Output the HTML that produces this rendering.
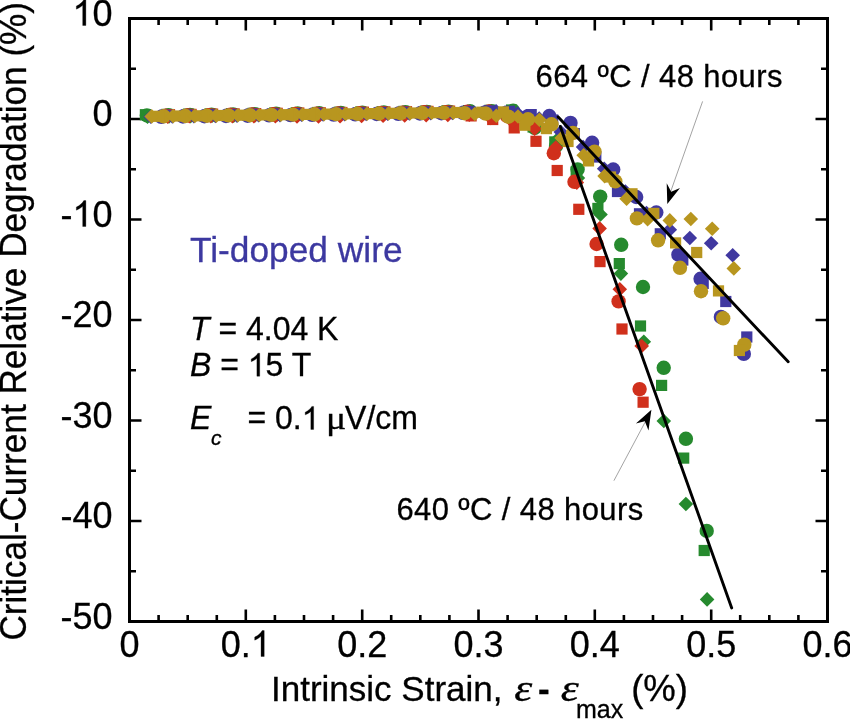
<!DOCTYPE html>
<html><head><meta charset="utf-8">
<style>
html,body{margin:0;padding:0;background:#fff;overflow:hidden;}
svg{display:block;will-change:transform;}
text{font-family:"Liberation Sans",sans-serif;fill:#000;stroke:#000;stroke-width:0.3px;}
</style></head>
<body>
<svg width="850" height="719" viewBox="0 0 850 719">
<rect width="850" height="719" fill="#fff"/>
<!-- ticks -->
<g id="ticks" stroke="#000" stroke-width="2.6" fill="none">
<path d="M158.6,621.5v-6.5M158.6,18.5v6.5M187.7,621.5v-6.5M187.7,18.5v6.5M216.8,621.5v-6.5M216.8,18.5v6.5M245.8,621.5v-12M245.8,18.5v12M274.9,621.5v-6.5M274.9,18.5v6.5M304.0,621.5v-6.5M304.0,18.5v6.5M333.1,621.5v-6.5M333.1,18.5v6.5M362.2,621.5v-12M362.2,18.5v12M391.2,621.5v-6.5M391.2,18.5v6.5M420.3,621.5v-6.5M420.3,18.5v6.5M449.4,621.5v-6.5M449.4,18.5v6.5M478.5,621.5v-12M478.5,18.5v12M507.6,621.5v-6.5M507.6,18.5v6.5M536.7,621.5v-6.5M536.7,18.5v6.5M565.8,621.5v-6.5M565.8,18.5v6.5M594.8,621.5v-12M594.8,18.5v12M623.9,621.5v-6.5M623.9,18.5v6.5M653.0,621.5v-6.5M653.0,18.5v6.5M682.1,621.5v-6.5M682.1,18.5v6.5M711.2,621.5v-12M711.2,18.5v12M740.2,621.5v-6.5M740.2,18.5v6.5M769.3,621.5v-6.5M769.3,18.5v6.5M798.4,621.5v-6.5M798.4,18.5v6.5M129.5,68.8h6.5M827.5,68.8h-6.5M129.5,119.0h12M827.5,119.0h-12M129.5,169.2h6.5M827.5,169.2h-6.5M129.5,219.5h12M827.5,219.5h-12M129.5,269.8h6.5M827.5,269.8h-6.5M129.5,320.0h12M827.5,320.0h-12M129.5,370.2h6.5M827.5,370.2h-6.5M129.5,420.5h12M827.5,420.5h-12M129.5,470.8h6.5M827.5,470.8h-6.5M129.5,521.0h12M827.5,521.0h-12M129.5,571.2h6.5M827.5,571.2h-6.5"/>
</g>
<!-- data -->
<g id="data">
<circle cx="146.9" cy="115.5" r="7.2" fill="#268a2e"/>
<circle cx="168.4" cy="115.2" r="7.2" fill="#268a2e"/>
<circle cx="190.0" cy="114.9" r="7.2" fill="#268a2e"/>
<circle cx="211.5" cy="114.6" r="7.2" fill="#268a2e"/>
<circle cx="233.1" cy="114.4" r="7.2" fill="#268a2e"/>
<circle cx="254.6" cy="114.1" r="7.2" fill="#268a2e"/>
<circle cx="276.1" cy="113.8" r="7.2" fill="#268a2e"/>
<circle cx="297.7" cy="113.5" r="7.2" fill="#268a2e"/>
<circle cx="319.2" cy="113.3" r="7.2" fill="#268a2e"/>
<circle cx="340.8" cy="113.0" r="7.2" fill="#268a2e"/>
<circle cx="362.3" cy="112.7" r="7.2" fill="#268a2e"/>
<circle cx="383.8" cy="112.4" r="7.2" fill="#268a2e"/>
<circle cx="405.4" cy="112.2" r="7.2" fill="#268a2e"/>
<circle cx="426.9" cy="111.9" r="7.2" fill="#268a2e"/>
<circle cx="448.5" cy="111.6" r="7.2" fill="#268a2e"/>
<circle cx="470.0" cy="111.3" r="7.2" fill="#268a2e"/>
<circle cx="491.5" cy="111.1" r="7.2" fill="#268a2e"/>
<circle cx="513.1" cy="110.8" r="7.2" fill="#268a2e"/>
<circle cx="534.6" cy="128.0" r="7.2" fill="#268a2e"/>
<circle cx="556.0" cy="146.0" r="7.2" fill="#268a2e"/>
<circle cx="577.6" cy="169.4" r="7.2" fill="#268a2e"/>
<circle cx="600.2" cy="196.6" r="7.2" fill="#268a2e"/>
<circle cx="621.2" cy="244.8" r="7.2" fill="#268a2e"/>
<circle cx="643.0" cy="287.0" r="7.2" fill="#268a2e"/>
<circle cx="663.7" cy="367.8" r="7.2" fill="#268a2e"/>
<circle cx="685.9" cy="438.8" r="7.2" fill="#268a2e"/>
<circle cx="706.7" cy="530.9" r="7.2" fill="#268a2e"/>
<rect x="139.8" y="109.1" width="11.2" height="11.2" fill="#268a2e"/>
<rect x="161.3" y="108.8" width="11.2" height="11.2" fill="#268a2e"/>
<rect x="182.9" y="108.5" width="11.2" height="11.2" fill="#268a2e"/>
<rect x="204.4" y="108.3" width="11.2" height="11.2" fill="#268a2e"/>
<rect x="226.0" y="108.0" width="11.2" height="11.2" fill="#268a2e"/>
<rect x="247.5" y="107.7" width="11.2" height="11.2" fill="#268a2e"/>
<rect x="269.0" y="107.4" width="11.2" height="11.2" fill="#268a2e"/>
<rect x="290.6" y="107.2" width="11.2" height="11.2" fill="#268a2e"/>
<rect x="312.1" y="106.9" width="11.2" height="11.2" fill="#268a2e"/>
<rect x="333.7" y="106.6" width="11.2" height="11.2" fill="#268a2e"/>
<rect x="355.2" y="106.3" width="11.2" height="11.2" fill="#268a2e"/>
<rect x="376.7" y="106.1" width="11.2" height="11.2" fill="#268a2e"/>
<rect x="398.3" y="105.8" width="11.2" height="11.2" fill="#268a2e"/>
<rect x="419.8" y="105.5" width="11.2" height="11.2" fill="#268a2e"/>
<rect x="441.4" y="105.2" width="11.2" height="11.2" fill="#268a2e"/>
<rect x="462.9" y="105.0" width="11.2" height="11.2" fill="#268a2e"/>
<rect x="484.4" y="104.7" width="11.2" height="11.2" fill="#268a2e"/>
<rect x="506.0" y="104.4" width="11.2" height="11.2" fill="#268a2e"/>
<rect x="527.5" y="121.4" width="11.2" height="11.2" fill="#268a2e"/>
<rect x="549.2" y="136.3" width="11.2" height="11.2" fill="#268a2e"/>
<rect x="570.6" y="166.4" width="11.2" height="11.2" fill="#268a2e"/>
<rect x="592.3" y="202.8" width="11.2" height="11.2" fill="#268a2e"/>
<rect x="613.7" y="258.0" width="11.2" height="11.2" fill="#268a2e"/>
<rect x="634.9" y="320.4" width="11.2" height="11.2" fill="#268a2e"/>
<rect x="656.0" y="379.8" width="11.2" height="11.2" fill="#268a2e"/>
<rect x="678.1" y="452.5" width="11.2" height="11.2" fill="#268a2e"/>
<rect x="698.6" y="544.9" width="11.2" height="11.2" fill="#268a2e"/>
<path d="M147.5,109.4L154.8,116.7L147.5,124.0L140.2,116.7Z" fill="#268a2e"/>
<path d="M169.0,109.1L176.3,116.4L169.0,123.7L161.7,116.4Z" fill="#268a2e"/>
<path d="M190.6,108.8L197.9,116.1L190.6,123.4L183.3,116.1Z" fill="#268a2e"/>
<path d="M212.1,108.5L219.4,115.8L212.1,123.1L204.8,115.8Z" fill="#268a2e"/>
<path d="M233.7,108.3L241.0,115.6L233.7,122.9L226.4,115.6Z" fill="#268a2e"/>
<path d="M255.2,108.0L262.5,115.3L255.2,122.6L247.9,115.3Z" fill="#268a2e"/>
<path d="M276.7,107.7L284.0,115.0L276.7,122.3L269.4,115.0Z" fill="#268a2e"/>
<path d="M298.3,107.4L305.6,114.7L298.3,122.0L291.0,114.7Z" fill="#268a2e"/>
<path d="M319.8,107.2L327.1,114.5L319.8,121.8L312.5,114.5Z" fill="#268a2e"/>
<path d="M341.4,106.9L348.7,114.2L341.4,121.5L334.1,114.2Z" fill="#268a2e"/>
<path d="M362.9,106.6L370.2,113.9L362.9,121.2L355.6,113.9Z" fill="#268a2e"/>
<path d="M384.4,106.3L391.7,113.6L384.4,120.9L377.1,113.6Z" fill="#268a2e"/>
<path d="M406.0,106.1L413.3,113.4L406.0,120.7L398.7,113.4Z" fill="#268a2e"/>
<path d="M427.5,105.8L434.8,113.1L427.5,120.4L420.2,113.1Z" fill="#268a2e"/>
<path d="M449.1,105.5L456.4,112.8L449.1,120.1L441.8,112.8Z" fill="#268a2e"/>
<path d="M470.6,105.2L477.9,112.5L470.6,119.8L463.3,112.5Z" fill="#268a2e"/>
<path d="M492.1,105.0L499.4,112.3L492.1,119.6L484.8,112.3Z" fill="#268a2e"/>
<path d="M513.7,104.8L521.0,112.1L513.7,119.4L506.4,112.1Z" fill="#268a2e"/>
<path d="M535.3,117.7L542.6,125.0L535.3,132.3L528.0,125.0Z" fill="#268a2e"/>
<path d="M556.8,132.7L564.1,140.0L556.8,147.3L549.5,140.0Z" fill="#268a2e"/>
<path d="M577.9,170.7L585.2,178.0L577.9,185.3L570.6,178.0Z" fill="#268a2e"/>
<path d="M600.5,207.2L607.8,214.5L600.5,221.8L593.2,214.5Z" fill="#268a2e"/>
<path d="M620.9,266.3L628.2,273.6L620.9,280.9L613.6,273.6Z" fill="#268a2e"/>
<path d="M643.8,334.5L651.1,341.8L643.8,349.1L636.5,341.8Z" fill="#268a2e"/>
<path d="M663.8,413.7L671.1,421.0L663.8,428.3L656.5,421.0Z" fill="#268a2e"/>
<path d="M685.9,496.7L693.2,504.0L685.9,511.3L678.6,504.0Z" fill="#268a2e"/>
<path d="M707.1,592.1L714.4,599.4L707.1,606.7L699.8,599.4Z" fill="#268a2e"/>
<circle cx="165.7" cy="115.6" r="7.2" fill="#d0301c"/>
<circle cx="187.3" cy="115.4" r="7.2" fill="#d0301c"/>
<circle cx="208.8" cy="115.1" r="7.2" fill="#d0301c"/>
<circle cx="230.4" cy="114.8" r="7.2" fill="#d0301c"/>
<circle cx="251.9" cy="114.5" r="7.2" fill="#d0301c"/>
<circle cx="273.4" cy="114.3" r="7.2" fill="#d0301c"/>
<circle cx="295.0" cy="114.0" r="7.2" fill="#d0301c"/>
<circle cx="316.5" cy="113.7" r="7.2" fill="#d0301c"/>
<circle cx="338.1" cy="113.4" r="7.2" fill="#d0301c"/>
<circle cx="359.6" cy="113.2" r="7.2" fill="#d0301c"/>
<circle cx="381.1" cy="112.9" r="7.2" fill="#d0301c"/>
<circle cx="402.7" cy="112.6" r="7.2" fill="#d0301c"/>
<circle cx="424.2" cy="112.3" r="7.2" fill="#d0301c"/>
<circle cx="445.8" cy="112.1" r="7.2" fill="#d0301c"/>
<circle cx="467.3" cy="111.8" r="7.2" fill="#d0301c"/>
<circle cx="488.8" cy="111.5" r="7.2" fill="#d0301c"/>
<circle cx="507.0" cy="116.0" r="7.2" fill="#d0301c"/>
<circle cx="528.5" cy="121.0" r="7.2" fill="#d0301c"/>
<circle cx="553.8" cy="153.2" r="7.2" fill="#d0301c"/>
<circle cx="574.5" cy="181.8" r="7.2" fill="#d0301c"/>
<circle cx="596.6" cy="244.0" r="7.2" fill="#d0301c"/>
<circle cx="618.6" cy="301.4" r="7.2" fill="#d0301c"/>
<circle cx="639.6" cy="389.1" r="7.2" fill="#d0301c"/>
<rect x="163.9" y="109.1" width="11.2" height="11.2" fill="#d0301c"/>
<rect x="185.5" y="108.8" width="11.2" height="11.2" fill="#d0301c"/>
<rect x="207.0" y="108.5" width="11.2" height="11.2" fill="#d0301c"/>
<rect x="228.6" y="108.3" width="11.2" height="11.2" fill="#d0301c"/>
<rect x="250.1" y="108.0" width="11.2" height="11.2" fill="#d0301c"/>
<rect x="271.6" y="107.7" width="11.2" height="11.2" fill="#d0301c"/>
<rect x="293.2" y="107.4" width="11.2" height="11.2" fill="#d0301c"/>
<rect x="314.7" y="107.2" width="11.2" height="11.2" fill="#d0301c"/>
<rect x="336.3" y="106.9" width="11.2" height="11.2" fill="#d0301c"/>
<rect x="357.8" y="106.6" width="11.2" height="11.2" fill="#d0301c"/>
<rect x="379.3" y="106.3" width="11.2" height="11.2" fill="#d0301c"/>
<rect x="400.9" y="106.1" width="11.2" height="11.2" fill="#d0301c"/>
<rect x="422.4" y="105.8" width="11.2" height="11.2" fill="#d0301c"/>
<rect x="444.0" y="105.5" width="11.2" height="11.2" fill="#d0301c"/>
<rect x="465.5" y="110.3" width="11.2" height="11.2" fill="#d0301c"/>
<rect x="487.1" y="113.9" width="11.2" height="11.2" fill="#d0301c"/>
<rect x="508.6" y="122.3" width="11.2" height="11.2" fill="#d0301c"/>
<rect x="530.4" y="135.7" width="11.2" height="11.2" fill="#d0301c"/>
<rect x="551.6" y="164.9" width="11.2" height="11.2" fill="#d0301c"/>
<rect x="573.2" y="203.7" width="11.2" height="11.2" fill="#d0301c"/>
<rect x="594.4" y="256.0" width="11.2" height="11.2" fill="#d0301c"/>
<rect x="616.4" y="323.4" width="11.2" height="11.2" fill="#d0301c"/>
<rect x="637.5" y="396.6" width="11.2" height="11.2" fill="#d0301c"/>
<path d="M167.7,109.3L175.0,116.6L167.7,123.9L160.4,116.6Z" fill="#d0301c"/>
<path d="M189.3,109.0L196.6,116.3L189.3,123.6L182.0,116.3Z" fill="#d0301c"/>
<path d="M210.8,108.9L218.1,116.2L210.8,123.5L203.5,116.2Z" fill="#d0301c"/>
<path d="M232.4,109.0L239.7,116.3L232.4,123.6L225.1,116.3Z" fill="#d0301c"/>
<path d="M253.9,109.0L261.2,116.3L253.9,123.6L246.6,116.3Z" fill="#d0301c"/>
<path d="M275.4,109.0L282.7,116.3L275.4,123.6L268.1,116.3Z" fill="#d0301c"/>
<path d="M297.0,109.1L304.3,116.4L297.0,123.7L289.7,116.4Z" fill="#d0301c"/>
<path d="M318.5,109.1L325.8,116.4L318.5,123.7L311.2,116.4Z" fill="#d0301c"/>
<path d="M340.1,109.0L347.4,116.3L340.1,123.6L332.8,116.3Z" fill="#d0301c"/>
<path d="M361.6,108.7L368.9,116.0L361.6,123.3L354.3,116.0Z" fill="#d0301c"/>
<path d="M383.1,108.5L390.4,115.8L383.1,123.1L375.8,115.8Z" fill="#d0301c"/>
<path d="M404.7,108.2L412.0,115.5L404.7,122.8L397.4,115.5Z" fill="#d0301c"/>
<path d="M426.2,107.9L433.5,115.2L426.2,122.5L418.9,115.2Z" fill="#d0301c"/>
<path d="M447.8,107.6L455.1,114.9L447.8,122.2L440.5,114.9Z" fill="#d0301c"/>
<path d="M469.3,107.3L476.6,114.6L469.3,121.9L462.0,114.6Z" fill="#d0301c"/>
<path d="M490.8,110.7L498.1,118.0L490.8,125.3L483.5,118.0Z" fill="#d0301c"/>
<path d="M512.4,114.2L519.7,121.5L512.4,128.8L505.1,121.5Z" fill="#d0301c"/>
<path d="M534.6,121.5L541.9,128.8L534.6,136.1L527.3,128.8Z" fill="#d0301c"/>
<path d="M555.8,140.2L563.1,147.5L555.8,154.8L548.5,147.5Z" fill="#d0301c"/>
<path d="M576.8,175.3L584.1,182.6L576.8,189.9L569.5,182.6Z" fill="#d0301c"/>
<path d="M599.6,221.1L606.9,228.4L599.6,235.7L592.3,228.4Z" fill="#d0301c"/>
<path d="M619.8,282.0L627.1,289.3L619.8,296.6L612.5,289.3Z" fill="#d0301c"/>
<path d="M641.7,338.7L649.0,346.0L641.7,353.3L634.4,346.0Z" fill="#d0301c"/>
<circle cx="161.3" cy="116.8" r="7.2" fill="#4038a0"/>
<circle cx="182.9" cy="116.5" r="7.2" fill="#4038a0"/>
<circle cx="204.4" cy="116.2" r="7.2" fill="#4038a0"/>
<circle cx="226.0" cy="116.0" r="7.2" fill="#4038a0"/>
<circle cx="247.5" cy="115.7" r="7.2" fill="#4038a0"/>
<circle cx="269.0" cy="115.4" r="7.2" fill="#4038a0"/>
<circle cx="290.6" cy="115.1" r="7.2" fill="#4038a0"/>
<circle cx="312.1" cy="114.9" r="7.2" fill="#4038a0"/>
<circle cx="333.7" cy="114.6" r="7.2" fill="#4038a0"/>
<circle cx="355.2" cy="114.3" r="7.2" fill="#4038a0"/>
<circle cx="376.7" cy="114.0" r="7.2" fill="#4038a0"/>
<circle cx="398.3" cy="113.8" r="7.2" fill="#4038a0"/>
<circle cx="419.8" cy="113.5" r="7.2" fill="#4038a0"/>
<circle cx="441.4" cy="113.2" r="7.2" fill="#4038a0"/>
<circle cx="462.9" cy="112.9" r="7.2" fill="#4038a0"/>
<circle cx="484.4" cy="112.7" r="7.2" fill="#4038a0"/>
<circle cx="506.0" cy="112.9" r="7.2" fill="#4038a0"/>
<circle cx="527.5" cy="116.4" r="7.2" fill="#4038a0"/>
<circle cx="549.3" cy="116.0" r="7.2" fill="#4038a0"/>
<circle cx="570.5" cy="122.9" r="7.2" fill="#4038a0"/>
<circle cx="592.1" cy="142.8" r="7.2" fill="#4038a0"/>
<circle cx="613.2" cy="169.5" r="7.2" fill="#4038a0"/>
<circle cx="636.2" cy="197.0" r="7.2" fill="#4038a0"/>
<circle cx="656.3" cy="212.5" r="7.2" fill="#4038a0"/>
<circle cx="678.4" cy="254.7" r="7.2" fill="#4038a0"/>
<circle cx="700.6" cy="278.8" r="7.2" fill="#4038a0"/>
<circle cx="720.9" cy="316.9" r="7.2" fill="#4038a0"/>
<circle cx="743.8" cy="353.9" r="7.2" fill="#4038a0"/>
<rect x="159.4" y="109.6" width="11.2" height="11.2" fill="#4038a0"/>
<rect x="181.0" y="109.4" width="11.2" height="11.2" fill="#4038a0"/>
<rect x="202.5" y="109.1" width="11.2" height="11.2" fill="#4038a0"/>
<rect x="224.1" y="108.8" width="11.2" height="11.2" fill="#4038a0"/>
<rect x="245.6" y="108.5" width="11.2" height="11.2" fill="#4038a0"/>
<rect x="267.1" y="108.3" width="11.2" height="11.2" fill="#4038a0"/>
<rect x="288.7" y="108.0" width="11.2" height="11.2" fill="#4038a0"/>
<rect x="310.2" y="107.7" width="11.2" height="11.2" fill="#4038a0"/>
<rect x="331.8" y="107.4" width="11.2" height="11.2" fill="#4038a0"/>
<rect x="353.3" y="107.2" width="11.2" height="11.2" fill="#4038a0"/>
<rect x="374.8" y="106.9" width="11.2" height="11.2" fill="#4038a0"/>
<rect x="396.4" y="106.6" width="11.2" height="11.2" fill="#4038a0"/>
<rect x="417.9" y="106.3" width="11.2" height="11.2" fill="#4038a0"/>
<rect x="439.5" y="106.1" width="11.2" height="11.2" fill="#4038a0"/>
<rect x="461.0" y="105.8" width="11.2" height="11.2" fill="#4038a0"/>
<rect x="483.4" y="105.3" width="11.2" height="11.2" fill="#4038a0"/>
<rect x="504.0" y="105.7" width="11.2" height="11.2" fill="#4038a0"/>
<rect x="525.6" y="109.0" width="11.2" height="11.2" fill="#4038a0"/>
<rect x="547.1" y="114.4" width="11.2" height="11.2" fill="#4038a0"/>
<rect x="568.7" y="128.0" width="11.2" height="11.2" fill="#4038a0"/>
<rect x="590.2" y="151.4" width="11.2" height="11.2" fill="#4038a0"/>
<rect x="611.9" y="185.9" width="11.2" height="11.2" fill="#4038a0"/>
<rect x="633.9" y="208.2" width="11.2" height="11.2" fill="#4038a0"/>
<rect x="654.7" y="228.2" width="11.2" height="11.2" fill="#4038a0"/>
<rect x="677.2" y="254.4" width="11.2" height="11.2" fill="#4038a0"/>
<rect x="697.6" y="277.8" width="11.2" height="11.2" fill="#4038a0"/>
<rect x="720.2" y="295.9" width="11.2" height="11.2" fill="#4038a0"/>
<rect x="741.2" y="331.4" width="11.2" height="11.2" fill="#4038a0"/>
<path d="M150.8,109.4L158.1,116.7L150.8,124.0L143.5,116.7Z" fill="#4038a0"/>
<path d="M172.3,109.2L179.6,116.5L172.3,123.8L165.0,116.5Z" fill="#4038a0"/>
<path d="M193.9,108.9L201.2,116.2L193.9,123.5L186.6,116.2Z" fill="#4038a0"/>
<path d="M215.4,108.6L222.7,115.9L215.4,123.2L208.1,115.9Z" fill="#4038a0"/>
<path d="M237.0,108.3L244.3,115.6L237.0,122.9L229.7,115.6Z" fill="#4038a0"/>
<path d="M258.5,108.0L265.8,115.3L258.5,122.6L251.2,115.3Z" fill="#4038a0"/>
<path d="M280.0,107.8L287.3,115.1L280.0,122.4L272.7,115.1Z" fill="#4038a0"/>
<path d="M301.6,107.5L308.9,114.8L301.6,122.1L294.3,114.8Z" fill="#4038a0"/>
<path d="M323.1,107.2L330.4,114.5L323.1,121.8L315.8,114.5Z" fill="#4038a0"/>
<path d="M344.7,106.9L352.0,114.2L344.7,121.5L337.4,114.2Z" fill="#4038a0"/>
<path d="M366.2,106.7L373.5,114.0L366.2,121.3L358.9,114.0Z" fill="#4038a0"/>
<path d="M387.7,106.4L395.0,113.7L387.7,121.0L380.4,113.7Z" fill="#4038a0"/>
<path d="M409.3,106.1L416.6,113.4L409.3,120.7L402.0,113.4Z" fill="#4038a0"/>
<path d="M430.8,105.8L438.1,113.1L430.8,120.4L423.5,113.1Z" fill="#4038a0"/>
<path d="M452.4,105.6L459.7,112.9L452.4,120.2L445.1,112.9Z" fill="#4038a0"/>
<path d="M473.9,105.3L481.2,112.6L473.9,119.9L466.6,112.6Z" fill="#4038a0"/>
<path d="M496.1,104.0L503.4,111.3L496.1,118.6L488.8,111.3Z" fill="#4038a0"/>
<path d="M517.6,106.2L524.9,113.5L517.6,120.8L510.3,113.5Z" fill="#4038a0"/>
<path d="M539.2,111.2L546.5,118.5L539.2,125.8L531.9,118.5Z" fill="#4038a0"/>
<path d="M560.8,124.7L568.1,132.0L560.8,139.3L553.5,132.0Z" fill="#4038a0"/>
<path d="M583.1,139.8L590.4,147.1L583.1,154.4L575.8,147.1Z" fill="#4038a0"/>
<path d="M604.2,161.5L611.5,168.8L604.2,176.1L596.9,168.8Z" fill="#4038a0"/>
<path d="M625.4,184.2L632.7,191.5L625.4,198.8L618.1,191.5Z" fill="#4038a0"/>
<path d="M646.5,205.7L653.8,213.0L646.5,220.3L639.2,213.0Z" fill="#4038a0"/>
<path d="M669.8,222.4L677.1,229.7L669.8,237.0L662.5,229.7Z" fill="#4038a0"/>
<path d="M689.8,230.7L697.1,238.0L689.8,245.3L682.5,238.0Z" fill="#4038a0"/>
<path d="M711.2,236.0L718.5,243.3L711.2,250.6L703.9,243.3Z" fill="#4038a0"/>
<path d="M732.7,247.9L740.0,255.2L732.7,262.5L725.4,255.2Z" fill="#4038a0"/>
<circle cx="163.7" cy="116.3" r="7.2" fill="#b8961f"/>
<circle cx="185.3" cy="116.0" r="7.2" fill="#b8961f"/>
<circle cx="206.8" cy="115.7" r="7.2" fill="#b8961f"/>
<circle cx="228.4" cy="115.4" r="7.2" fill="#b8961f"/>
<circle cx="249.9" cy="115.2" r="7.2" fill="#b8961f"/>
<circle cx="271.4" cy="114.9" r="7.2" fill="#b8961f"/>
<circle cx="293.0" cy="114.6" r="7.2" fill="#b8961f"/>
<circle cx="314.5" cy="114.3" r="7.2" fill="#b8961f"/>
<circle cx="336.1" cy="114.1" r="7.2" fill="#b8961f"/>
<circle cx="357.6" cy="113.8" r="7.2" fill="#b8961f"/>
<circle cx="379.1" cy="113.5" r="7.2" fill="#b8961f"/>
<circle cx="400.7" cy="113.2" r="7.2" fill="#b8961f"/>
<circle cx="422.2" cy="113.0" r="7.2" fill="#b8961f"/>
<circle cx="443.8" cy="112.7" r="7.2" fill="#b8961f"/>
<circle cx="464.6" cy="113.2" r="7.2" fill="#b8961f"/>
<circle cx="485.8" cy="113.6" r="7.2" fill="#b8961f"/>
<circle cx="508.4" cy="116.7" r="7.2" fill="#b8961f"/>
<circle cx="528.0" cy="119.3" r="7.2" fill="#b8961f"/>
<circle cx="551.5" cy="124.3" r="7.2" fill="#b8961f"/>
<circle cx="572.9" cy="133.0" r="7.2" fill="#b8961f"/>
<circle cx="594.5" cy="151.6" r="7.2" fill="#b8961f"/>
<circle cx="615.3" cy="181.3" r="7.2" fill="#b8961f"/>
<circle cx="636.9" cy="218.4" r="7.2" fill="#b8961f"/>
<circle cx="658.1" cy="240.3" r="7.2" fill="#b8961f"/>
<circle cx="680.0" cy="267.8" r="7.2" fill="#b8961f"/>
<circle cx="701.0" cy="291.2" r="7.2" fill="#b8961f"/>
<circle cx="723.2" cy="318.3" r="7.2" fill="#b8961f"/>
<circle cx="744.3" cy="344.7" r="7.2" fill="#b8961f"/>
<rect x="153.1" y="110.7" width="11.2" height="11.2" fill="#b8961f"/>
<rect x="174.7" y="110.4" width="11.2" height="11.2" fill="#b8961f"/>
<rect x="196.2" y="110.2" width="11.2" height="11.2" fill="#b8961f"/>
<rect x="217.8" y="109.9" width="11.2" height="11.2" fill="#b8961f"/>
<rect x="239.3" y="109.6" width="11.2" height="11.2" fill="#b8961f"/>
<rect x="260.8" y="109.3" width="11.2" height="11.2" fill="#b8961f"/>
<rect x="282.4" y="109.1" width="11.2" height="11.2" fill="#b8961f"/>
<rect x="303.9" y="108.8" width="11.2" height="11.2" fill="#b8961f"/>
<rect x="325.5" y="108.5" width="11.2" height="11.2" fill="#b8961f"/>
<rect x="347.0" y="108.2" width="11.2" height="11.2" fill="#b8961f"/>
<rect x="368.5" y="108.0" width="11.2" height="11.2" fill="#b8961f"/>
<rect x="390.1" y="107.7" width="11.2" height="11.2" fill="#b8961f"/>
<rect x="411.6" y="107.4" width="11.2" height="11.2" fill="#b8961f"/>
<rect x="433.2" y="107.1" width="11.2" height="11.2" fill="#b8961f"/>
<rect x="454.7" y="106.9" width="11.2" height="11.2" fill="#b8961f"/>
<rect x="476.2" y="106.6" width="11.2" height="11.2" fill="#b8961f"/>
<rect x="497.8" y="106.3" width="11.2" height="11.2" fill="#b8961f"/>
<rect x="519.3" y="119.6" width="11.2" height="11.2" fill="#b8961f"/>
<rect x="540.8" y="123.0" width="11.2" height="11.2" fill="#b8961f"/>
<rect x="562.4" y="135.9" width="11.2" height="11.2" fill="#b8961f"/>
<rect x="582.9" y="155.3" width="11.2" height="11.2" fill="#b8961f"/>
<rect x="604.9" y="171.4" width="11.2" height="11.2" fill="#b8961f"/>
<rect x="626.4" y="188.2" width="11.2" height="11.2" fill="#b8961f"/>
<rect x="648.2" y="207.8" width="11.2" height="11.2" fill="#b8961f"/>
<rect x="670.0" y="237.3" width="11.2" height="11.2" fill="#b8961f"/>
<rect x="691.1" y="246.9" width="11.2" height="11.2" fill="#b8961f"/>
<rect x="712.9" y="285.3" width="11.2" height="11.2" fill="#b8961f"/>
<rect x="733.8" y="344.9" width="11.2" height="11.2" fill="#b8961f"/>
<path d="M151.7,109.1L159.0,116.4L151.7,123.7L144.4,116.4Z" fill="#b8961f"/>
<path d="M173.2,108.8L180.5,116.1L173.2,123.4L165.9,116.1Z" fill="#b8961f"/>
<path d="M194.8,108.6L202.1,115.9L194.8,123.2L187.5,115.9Z" fill="#b8961f"/>
<path d="M216.3,108.3L223.6,115.6L216.3,122.9L209.0,115.6Z" fill="#b8961f"/>
<path d="M237.9,108.0L245.2,115.3L237.9,122.6L230.6,115.3Z" fill="#b8961f"/>
<path d="M259.4,107.7L266.7,115.0L259.4,122.3L252.1,115.0Z" fill="#b8961f"/>
<path d="M280.9,107.5L288.2,114.8L280.9,122.1L273.6,114.8Z" fill="#b8961f"/>
<path d="M302.5,107.2L309.8,114.5L302.5,121.8L295.2,114.5Z" fill="#b8961f"/>
<path d="M324.0,106.9L331.3,114.2L324.0,121.5L316.7,114.2Z" fill="#b8961f"/>
<path d="M345.6,106.6L352.9,113.9L345.6,121.2L338.3,113.9Z" fill="#b8961f"/>
<path d="M367.1,106.4L374.4,113.7L367.1,121.0L359.8,113.7Z" fill="#b8961f"/>
<path d="M388.6,106.1L395.9,113.4L388.6,120.7L381.3,113.4Z" fill="#b8961f"/>
<path d="M410.2,105.8L417.5,113.1L410.2,120.4L402.9,113.1Z" fill="#b8961f"/>
<path d="M431.7,105.5L439.0,112.8L431.7,120.1L424.4,112.8Z" fill="#b8961f"/>
<path d="M453.3,105.3L460.6,112.6L453.3,119.9L446.0,112.6Z" fill="#b8961f"/>
<path d="M474.8,106.7L482.1,114.0L474.8,121.3L467.5,114.0Z" fill="#b8961f"/>
<path d="M496.3,108.5L503.6,115.8L496.3,123.1L489.0,115.8Z" fill="#b8961f"/>
<path d="M518.0,109.2L525.3,116.5L518.0,123.8L510.7,116.5Z" fill="#b8961f"/>
<path d="M539.4,112.4L546.7,119.7L539.4,127.0L532.1,119.7Z" fill="#b8961f"/>
<path d="M561.6,130.7L568.9,138.0L561.6,145.3L554.3,138.0Z" fill="#b8961f"/>
<path d="M583.7,147.9L591.0,155.2L583.7,162.5L576.4,155.2Z" fill="#b8961f"/>
<path d="M604.6,168.8L611.9,176.1L604.6,183.4L597.3,176.1Z" fill="#b8961f"/>
<path d="M626.6,191.4L633.9,198.7L626.6,206.0L619.3,198.7Z" fill="#b8961f"/>
<path d="M647.6,211.9L654.9,219.2L647.6,226.5L640.3,219.2Z" fill="#b8961f"/>
<path d="M669.8,213.1L677.1,220.4L669.8,227.7L662.5,220.4Z" fill="#b8961f"/>
<path d="M690.8,211.7L698.1,219.0L690.8,226.3L683.5,219.0Z" fill="#b8961f"/>
<path d="M712.2,221.4L719.5,228.7L712.2,236.0L704.9,228.7Z" fill="#b8961f"/>
<path d="M733.8,261.1L741.1,268.4L733.8,275.7L726.5,268.4Z" fill="#b8961f"/>
</g>
<!-- fit lines -->
<g stroke="#000" stroke-width="2.9" stroke-linecap="round" fill="none">
<line x1="558.2" y1="116.9" x2="788.2" y2="361.8"/>
<line x1="560.3" y1="126.4" x2="731.7" y2="607.9"/>
</g>
<!-- frame -->
<rect x="129.5" y="18.5" width="698" height="603" fill="none" stroke="#000" stroke-width="3"/>
<!-- y tick labels -->
<g font-size="36" text-anchor="end">
<text transform="translate(112.5,25.5) scale(1,1.03)"><tspan class="one" style="fill:none;stroke:none">1</tspan>0</text>
<text transform="translate(112.5,126) scale(1,1.03)">0</text>
<text transform="translate(112.5,226.5) scale(1,1.03)">-<tspan class="one" style="fill:none;stroke:none">1</tspan>0</text>
<text transform="translate(112.5,327) scale(1,1.03)">-20</text>
<text transform="translate(112.5,427.5) scale(1,1.03)">-30</text>
<text transform="translate(112.5,528) scale(1,1.03)">-40</text>
<text transform="translate(112.5,628.5) scale(1,1.03)">-50</text>
</g>
<g font-size="36" text-anchor="middle">
<text transform="translate(129.5,656.5) scale(1,1.03)">0</text>
<text transform="translate(245.8,656.5) scale(1,1.03)">0.<tspan class="one" style="fill:none;stroke:none">1</tspan></text>
<text transform="translate(362.2,656.5) scale(1,1.03)">0.2</text>
<text transform="translate(478.5,656.5) scale(1,1.03)">0.3</text>
<text transform="translate(594.8,656.5) scale(1,1.03)">0.4</text>
<text transform="translate(711.2,656.5) scale(1,1.03)">0.5</text>
<text transform="translate(827.5,656.5) scale(1,1.03)">0.6</text>
</g>
<!-- axis titles -->
<text font-size="35.4" transform="translate(25.9,640.6) rotate(-90) scale(0.993,1.02)">Critical-Current Relative Degradation (%)</text>
<text font-size="35" x="271" y="700.7">Intrinsic Strain,</text>
<text font-size="36" transform="translate(514.3,700.7) scale(1.27,1.04)" style="font-family:'Liberation Serif',serif" font-style="italic">ε</text>
<text font-size="35" x="538" y="700.7" font-weight="bold">-</text>
<text font-size="36" transform="translate(560.8,700.7) scale(1.27,1.04)" style="font-family:'Liberation Serif',serif" font-style="italic">ε</text>
<text font-size="25" x="576" y="718.2">max</text>
<text font-size="36.5" x="631.2" y="701.2">(%)</text>
<!-- annotations -->
<text font-size="31" letter-spacing="0.4" transform="translate(535.6,87) scale(1,1.025)">664 ºC / 48 hours</text>
<text font-size="31" letter-spacing="0.4" transform="translate(396.4,519.7) scale(1,1.025)">640 ºC / 48 hours</text>
<text font-size="35.3" x="190" y="262" style="fill:#3c38a0;stroke:#3c38a0">Ti-doped wire</text>
<g font-size="32">
<text transform="translate(190,339.8) scale(1,1.04)"><tspan font-style="italic">T</tspan> = 4.04 K</text>
<text transform="translate(190,376.2) scale(1,1.04)"><tspan font-style="italic">B</tspan> = <tspan class="one" style="fill:none;stroke:none">1</tspan>5 T</text>
<text transform="translate(190,429.4) scale(1,1.04)" font-style="italic">E</text>
<text x="211" y="445.3" font-size="21" font-style="italic">c</text>
<text transform="translate(247.5,429.4) scale(1,1.04)">= 0.<tspan class="one" style="fill:none;stroke:none">1</tspan></text>
<text transform="translate(326,429.4) scale(1.18,1)" style="font-family:'Liberation Serif',serif">μ</text>
<text transform="translate(345.1,429.4) scale(1,1.02)">V/cm</text>
</g>
<g id="ones" stroke="#000" stroke-width="0.3"><path transform="matrix(1.0000,0.0000,0.0000,1.0300,112.50,25.50) translate(-40.05,0.00) scale(0.01758,-0.01707)" d="M763,0L583,0L583,1147Q518,1085 412,1023Q306,961 222,930L222,1104Q373,1175 486,1276Q599,1377 646,1472L763,1472Z" vector-effect="non-scaling-stroke"/><path transform="matrix(1.0000,0.0000,0.0000,1.0300,112.50,226.50) translate(-40.05,0.00) scale(0.01758,-0.01707)" d="M763,0L583,0L583,1147Q518,1085 412,1023Q306,961 222,930L222,1104Q373,1175 486,1276Q599,1377 646,1472L763,1472Z" vector-effect="non-scaling-stroke"/><path transform="matrix(1.0000,0.0000,0.0000,1.0300,245.80,656.50) translate(4.99,0.00) scale(0.01758,-0.01707)" d="M763,0L583,0L583,1147Q518,1085 412,1023Q306,961 222,930L222,1104Q373,1175 486,1276Q599,1377 646,1472L763,1472Z" vector-effect="non-scaling-stroke"/><path transform="matrix(1.0000,0.0000,0.0000,1.0400,190.00,376.20) translate(57.79,0.00) scale(0.01562,-0.01502)" d="M763,0L583,0L583,1147Q518,1085 412,1023Q306,961 222,930L222,1104Q373,1175 486,1276Q599,1377 646,1472L763,1472Z" vector-effect="non-scaling-stroke"/><path transform="matrix(1.0000,0.0000,0.0000,1.0400,247.50,429.40) translate(54.23,0.00) scale(0.01562,-0.01502)" d="M763,0L583,0L583,1147Q518,1085 412,1023Q306,961 222,930L222,1104Q373,1175 486,1276Q599,1377 646,1472L763,1472Z" vector-effect="non-scaling-stroke"/></g>
<!-- arrows -->
<g stroke="#999" stroke-width="0.9" fill="none">
<line x1="702.6" y1="101.4" x2="670.9" y2="191"/>
<line x1="613.9" y1="480.7" x2="645.2" y2="422"/>
</g>
<path d="M667.3,203.9 L666.7,183.2 L671.2,191.7 L680,187.9 Z" fill="#000"/>
<path d="M651.4,409.8 L635.9,423.6 L644.8,421.2 L648.5,430.5 Z" fill="#000"/>
</svg>
</body></html>
